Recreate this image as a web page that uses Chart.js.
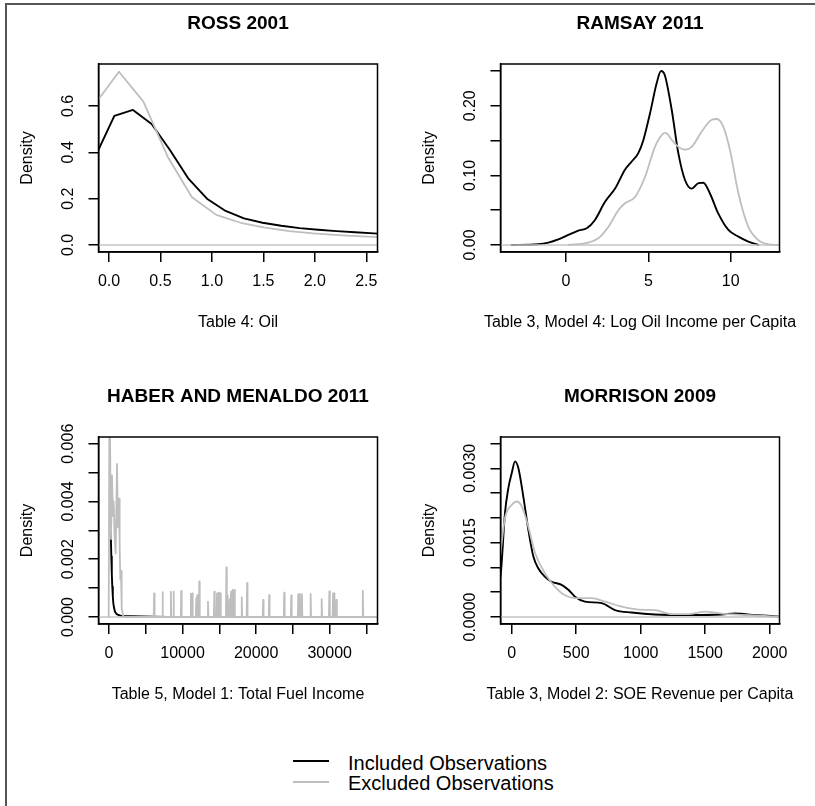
<!DOCTYPE html>
<html><head><meta charset="utf-8">
<script src="https://cdn.jsdelivr.net/npm/chart.js@4.4.1/dist/chart.umd.min.js"></script>
<style>
html,body{margin:0;padding:0;background:#fff;overflow:hidden;}
body{width:815px;height:806px;position:relative;font-family:"Liberation Sans",Arial,Helvetica,sans-serif;}
#fh{position:absolute;left:5px;top:3px;width:810px;height:2px;background:#555;}
#fv{position:absolute;left:5px;top:3px;width:2px;height:803px;background:#555;}
canvas{position:absolute;}
.lg{position:absolute;left:348px;font-size:20px;line-height:20px;color:#000;white-space:nowrap;}
.ll{position:absolute;left:293px;width:36px;height:2px;}
</style></head><body>
<div id="fh"></div><div id="fv"></div>
<canvas id="c1" width="402" height="373" style="left:0px;top:0px"></canvas>
<canvas id="c2" width="402" height="373" style="left:402px;top:0px"></canvas>
<canvas id="c3" width="402" height="373" style="left:0px;top:373px"></canvas>
<canvas id="c4" width="402" height="373" style="left:402px;top:373px"></canvas>
<div class="ll" style="top:760px;background:#000"></div>
<div class="ll" style="top:781px;background:#BEBEBE"></div>
<div class="lg" style="top:753px">Included Observations</div>
<div class="lg" style="top:773px">Excluded Observations</div>
<script>
// ---------- DATA ----------
const titles = ["ROSS 2001", "RAMSAY 2011", "HABER AND MENALDO 2011", "MORRISON 2009"];
const xLabels = ["Table 4: Oil", "Table 3, Model 4: Log Oil Income per Capita",
                 "Table 5, Model 1: Total Fuel Income", "Table 3, Model 2: SOE Revenue per Capita"];
const legendLabels = ["Included Observations", "Excluded Observations"];

// Ross 2001
const rossIncluded = [[-0.127,0.388],[0.052,0.557],[0.233,0.583],[0.414,0.522],[0.592,0.410],[0.774,0.285],
  [0.952,0.200],[1.133,0.147],[1.311,0.115],[1.492,0.096],[1.674,0.083],[1.852,0.073],[2.033,0.066],
  [2.211,0.060],[2.392,0.055],[2.573,0.050],[2.754,0.046]];
const rossExcluded = [[-0.139,0.607],[0.097,0.748],[0.334,0.619],[0.570,0.381],[0.806,0.206],[1.043,0.130],
  [1.279,0.096],[1.516,0.075],[1.752,0.060],[1.988,0.050],[2.225,0.043],[2.461,0.037],[2.698,0.032]];
const rossXTicks = [0, 0.5, 1, 1.5, 2, 2.5];
const rossXTickLabels = ["0.0","0.5","1.0","1.5","2.0","2.5"];
const rossYTicks = [0, 0.2, 0.4, 0.6];
const rossYTickLabels = ["0.0","0.2","0.4","0.6"];

// Ramsay 2011
const ramsayIncluded = [[-3.3,0],[-1.68,0.001],[-1.07,0.0034],[-0.47,0.008],[0.14,0.0144],[0.75,0.0206],
  [1.26,0.024],[1.76,0.036],[2.37,0.062],[2.98,0.081],[3.58,0.108],[3.99,0.12],[4.39,0.132],[4.7,0.151],
  [5.1,0.189],[5.5,0.232],[5.77,0.25],[6.0,0.244],[6.42,0.194],[6.82,0.132],[7.23,0.093],[7.63,0.081],
  [8.04,0.089],[8.34,0.0895],[8.74,0.074],[9.25,0.045],[9.86,0.0216],[10.47,0.012],[11.07,0.0048],
  [11.68,0]];
const ramsayExcluded = [[0.14,0],[1.36,0.0034],[1.96,0.0096],[2.57,0.026],[3.18,0.05],[3.58,0.06],
  [4.19,0.069],[4.8,0.098],[5.4,0.141],[5.81,0.158],[6.05,0.161],[6.42,0.151],[6.82,0.141],[7.23,0.137],
  [7.63,0.141],[8.24,0.163],[8.85,0.18],[9.15,0.181],[9.55,0.17],[9.96,0.136],[10.47,0.074],[11.07,0.026],
  [11.68,0.007],[12.29,0.001],[12.9,0]];
const ramsayXTicks = [0, 5, 10];
const ramsayXTickLabels = ["0","5","10"];
const ramsayYTicks = [0, 0.05, 0.10, 0.15, 0.20, 0.25];
const ramsayYTickLabels = ["0.00","","0.10","","0.20",""];

// Haber and Menaldo 2011
const haberIncluded = [[230,0.0033],[260,0.0027],[313,0.0021],[380,0.0015],[450,0.00105],[520,0.0007],
  [590,0.00047],[700,0.0003],[816,0.00018],[1000,0.00011],[1270,0.00007],[1600,0.00005],[1950,0.000035],
  [3000,0.00003],[4500,0.00002],[6000,0.00001],[8000,0.000003],[36600,0]];
const haberExcluded = [[-40,0],[0,0],[60,0.0075],[136,0.0064],[272,0.0027],[408,0.0049],[544,0.0035],
  [635,0.0040],[771,0.0027],[907,0.0022],[1088,0.0053],[1224,0.0031],[1360,0.0041],[1451,0.0024],
  [1541,0.0013],[1632,0.0016],[1723,0.0003],[1814,0.0002],[1950,0],
  [6076,0],[6136,0.00082],[6196,0],[7213,0],[7273,0.00086],[7333,0],[8349,0],[8409,0.00088],[8469,0],
  [8713,0],[8773,0.00088],[8833,0],[9758,0],[9818,0.00090],[9878,0],[11076,0],[11136,0.00080],[11196,0],
  [11258,0],[11318,0.00082],[11378,0],[11804,0],[11864,0.00065],[11924,0],[11940,0],[12000,0.00076],[12060,0],
  [12213,0],[12273,0.00123],[12333,0],[13395,0],[13455,0.00053],[13515,0],[14258,0],[14318,0.00088],[14378,0],
  [14622,0],[14682,0.00082],[14742,0],[14895,0],[14955,0.00084],[15015,0],[15076,0],[15136,0.00082],[15196,0],
  [15895,0],[15955,0.00172],[16015,0],[16076,0],[16136,0.00076],[16196,0],[16349,0],[16409,0.00061],[16469,0],
  [16531,0],[16591,0.00088],[16651,0],[16758,0],[16818,0.00094],[16878,0],[16985,0],[17045,0.00094],[17105,0],
  [17985,0],[18045,0.00068],[18105,0],[18713,0],[18773,0.00117],[18833,0],[20895,0],[20955,0.00059],[21015,0],
  [21713,0],[21773,0.00076],[21833,0],[23758,0],[23818,0.00084],[23878,0],[24713,0],[24773,0.00075],[24833,0],
  [25667,0],[25727,0.00079],[25787,0],[25895,0],[25955,0.00079],[26015,0],[26167,0],[26227,0.00079],[26287,0],
  [27349,0],[27409,0.00080],[27469,0],[28849,0],[28909,0.00062],[28969,0],[29895,0],[29955,0.00089],[30015,0],
  [30395,0],[30455,0.00082],[30515,0],[30531,0],[30591,0.00082],[30651,0],[30849,0],[30909,0.00059],[30969,0],
  [34440,0],[34500,0.00091],[34560,0],[36600,0]];
const haberXTicks = [0,5000,10000,15000,20000,25000,30000,35000];
const haberXTickLabels = ["0","","10000","","20000","","30000",""];
const haberYTicks = [0,0.001,0.002,0.003,0.004,0.005,0.006];
const haberYTickLabels = ["0.000","","0.002","","0.004","","0.006"];

// Morrison 2009
const morrisonIncluded = [[-100,0.0006],[-82,0.00095],[-52,0.0021],[-26,0.0026],[0,0.0029],[26,0.00314],
  [52,0.0030],[90,0.00243],[129,0.00176],[168,0.00122],[207,0.00098],[258,0.00081],[310,0.00071],
  [387,0.00065],[439,0.00055],[491,0.00041],[568,0.00031],[698,0.00028],[801,0.00014],[930,0.00009],
  [1111,0.00005],[1370,0.00004],[1628,0.00005],[1731,0.00007],[1886,0.00004],[2072,0.00001],[2150,0]];
const morrisonExcluded = [[-100,0.0010],[-82,0.0014],[-52,0.0020],[0,0.00226],[39,0.00233],[78,0.00223],
  [129,0.00182],[181,0.00129],[258,0.00088],[336,0.00061],[413,0.00044],[517,0.00038],[620,0.00038],
  [724,0.00031],[853,0.00021],[982,0.00015],[1111,0.00014],[1240,0.00006],[1370,0.00006],[1499,0.00011],
  [1628,0.00007],[1886,0.00003],[2080,0.00001],[2150,0]];
const morrisonXTicks = [0,500,1000,1500,2000];
const morrisonXTickLabels = ["0","500","1000","1500","2000"];
const morrisonYTicks = [0,0.0005,0.0010,0.0015,0.0020,0.0025,0.0030,0.0035];
const morrisonYTickLabels = ["0.0000","","","0.0015","","","0.0030",""];

// ---------- RENDER ----------
const FONT = '"Liberation Sans", Arial, Helvetica, sans-serif';
const INC_COLOR = '#000000', EXC_COLOR = '#BEBEBE', ZERO_COLOR = '#C4C4C4';

function rStylePlugin(spec) {
  return {
    id: 'rStyle',
    afterDraw(chart) {
      const ctx = chart.ctx, a = chart.chartArea, xs = chart.scales.x, ys = chart.scales.y;
      ctx.save();
      ctx.strokeStyle = '#000'; ctx.lineWidth = 1.5;
      ctx.strokeRect(a.left, a.top, a.right - a.left, a.bottom - a.top);
      ctx.fillStyle = '#000';
      ctx.textAlign = 'center'; ctx.textBaseline = 'middle';
      const cx = (a.left + a.right) / 2;
      ctx.font = 'bold 19px ' + FONT;
      ctx.fillText(spec.title, cx, a.top - 40.5);
      ctx.font = '16px ' + FONT;
      ctx.fillText(spec.xlab, cx, a.bottom + 71);
      spec.xTicks.forEach((v, i) => {
        if (spec.xTickLabels[i]) ctx.fillText(spec.xTickLabels[i], xs.getPixelForValue(v), a.bottom + 30);
      });
      spec.yTicks.forEach((v, i) => {
        if (!spec.yTickLabels[i]) return;
        ctx.save();
        ctx.translate(a.left - 29.8, ys.getPixelForValue(v));
        ctx.rotate(-Math.PI / 2);
        ctx.fillText(spec.yTickLabels[i], 0, 0);
        ctx.restore();
      });
      ctx.save();
      ctx.translate(a.left - 70.5, (a.top + a.bottom) / 2);
      ctx.rotate(-Math.PI / 2);
      ctx.fillText('Density', 0, 0);
      ctx.restore();
      ctx.restore();
    }
  };
}

function toXY(arr) { return arr.map(p => ({x: p[0], y: p[1]})); }

function makePanel(id, spec) {
  const box = spec.box;
  const W = 402, H = 373;
  const axisStyle = {
    grid: {display: true, drawOnChartArea: false, drawTicks: true, tickLength: 10, color: '#000', lineWidth: 1.5},
    border: {display: true, color: '#000', width: 1.5},
    ticks: {display: false}
  };
  const curve = spec.smooth ? {cubicInterpolationMode: 'monotone'} : {tension: 0};
  new Chart(document.getElementById(id), {
    type: 'scatter',
    data: {
      datasets: [
        Object.assign({label: legendLabels[1], data: toXY(spec.exc), showLine: true, borderColor: EXC_COLOR,
         borderWidth: 1.8, pointRadius: 0, borderJoinStyle: 'round', borderCapStyle: 'round'}, curve),
        {label: 'zero', data: [{x: spec.xMin, y: 0}, {x: spec.xMax, y: 0}], showLine: true,
         borderColor: ZERO_COLOR, borderWidth: 1.3, pointRadius: 0},
        Object.assign({label: legendLabels[0], data: toXY(spec.inc), showLine: true, borderColor: INC_COLOR,
         borderWidth: 1.9, pointRadius: 0, borderJoinStyle: 'round', borderCapStyle: 'round'}, curve)
      ]
    },
    options: {
      responsive: false, animation: false, devicePixelRatio: 1,
      layout: {padding: {left: box.left - 10, right: W - box.right, top: box.top, bottom: H - box.bottom - 10}},
      plugins: {legend: {display: false}, tooltip: {enabled: false}, title: {display: false}},
      scales: {
        x: Object.assign({type: 'linear', position: 'bottom', min: spec.xMin, max: spec.xMax,
          afterBuildTicks: s => { s.ticks = spec.xTicks.map(v => ({value: v})); },
          afterFit: s => { s.height = 10; }}, axisStyle),
        y: Object.assign({type: 'linear', position: 'left', min: spec.yMin, max: spec.yMax,
          afterBuildTicks: s => { s.ticks = spec.yTicks.map(v => ({value: v})); },
          afterFit: s => { s.width = 10; }}, axisStyle)
      }
    },
    plugins: [rStylePlugin(spec)]
  });
}

makePanel('c1', {title: titles[0], xlab: xLabels[0], inc: rossIncluded, exc: rossExcluded, smooth: false,
  xMin: -0.102, xMax: 2.609, yMin: -0.0302, yMax: 0.7813,
  xTicks: rossXTicks, xTickLabels: rossXTickLabels, yTicks: rossYTicks, yTickLabels: rossYTickLabels,
  box: {left: 98.5, right: 377.5, top: 64, bottom: 252}});
makePanel('c2', {title: titles[1], xlab: xLabels[1], inc: ramsayIncluded, exc: ramsayExcluded, smooth: true,
  xMin: -3.977, xMax: 12.963, yMin: -0.01006, yMax: 0.26006,
  xTicks: ramsayXTicks, xTickLabels: ramsayXTickLabels, yTicks: ramsayYTicks, yTickLabels: ramsayYTickLabels,
  box: {left: 98.5, right: 377.5, top: 64, bottom: 252}});
makePanel('c3', {title: titles[2], xlab: xLabels[2], inc: haberIncluded, exc: haberExcluded, smooth: false,
  xMin: -1427, xMax: 36498, yMin: -0.000242, yMax: 0.006232,
  xTicks: haberXTicks, xTickLabels: haberXTickLabels, yTicks: haberYTicks, yTickLabels: haberYTickLabels,
  box: {left: 98.5, right: 377.5, top: 64, bottom: 251}});
makePanel('c4', {title: titles[3], xlab: xLabels[3], inc: morrisonIncluded, exc: morrisonExcluded, smooth: true,
  xMin: -86.8, xMax: 2076, yMin: -0.000141, yMax: 0.003631,
  xTicks: morrisonXTicks, xTickLabels: morrisonXTickLabels, yTicks: morrisonYTicks, yTickLabels: morrisonYTickLabels,
  box: {left: 98.5, right: 377.5, top: 64, bottom: 251}});
</script>
</body></html>
